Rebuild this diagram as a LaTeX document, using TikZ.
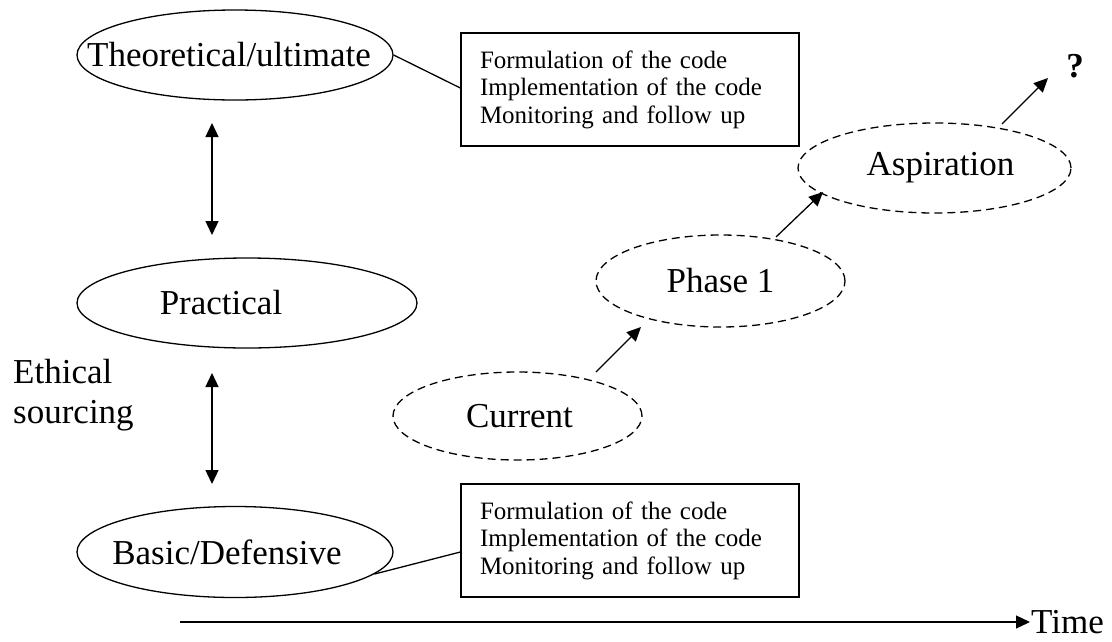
\documentclass[tikz,border=0pt]{standalone}
\usepackage{fontspec}
\setmainfont{Liberation Serif}
\usetikzlibrary{shapes.geometric,arrows.meta,calc}
\tikzset{
  ell/.style={draw, ellipse, line width=1.3pt, inner sep=0pt},
  dell/.style={ell, dash pattern=on 8pt off 5pt},
  big/.style={font=\fontsize{35}{40}\selectfont, inner sep=0pt},
  codebox/.style={draw, rectangle, line width=1.3pt, text width=300pt, inner xsep=19pt,
    minimum height=113pt, align=left, font=\fontsize{25}{27.5}\selectfont},
  conn/.style={line width=1.3pt},
  arr/.style={line width=1.3pt, -{Triangle[length=14pt,width=13pt]}},
  darr/.style={line width=1.3pt, {Triangle[length=14pt,width=13pt]}-{Triangle[length=14pt,width=13pt]}}
}
\begin{document}
\begin{tikzpicture}[x=1pt,y=-1pt]
\useasboundingbox (0,0) rectangle (1112,641);
% left column
\node[ell, minimum width=316pt, minimum height=90pt,
  label={[big,xshift=-6pt]center:Theoretical/ultimate}] (theo) at (235,55) {};
\node[ell, minimum width=340pt, minimum height=90pt,
  label={[big,xshift=-26pt]center:Practical}] (prac) at (247,303) {};
\node[ell, minimum width=316pt, minimum height=91pt,
  label={[big,xshift=-8pt]center:Basic/Defensive}] (basic) at (235,552) {};
\node[big, anchor=west, align=left] (eth) at (13,395) {Ethical\\sourcing};
% boxes
\node[codebox] (box1) at (630,89.5) {Formulation of the code\\Implementation of the code\\Monitoring and follow up};
\node[codebox] (box2) at (630,540.5) {Formulation of the code\\Implementation of the code\\Monitoring and follow up};
\draw[conn] (theo.east) -- ($(box1.west)+(0,-1.5)$);
\draw[conn] (basic.-9) -- ($(box2.west)+(0,11.5)$);
% double arrows
\coordinate (a1t) at (212,123);
\coordinate (a1b) at (212,235);
\coordinate (a2t) at (212,373);
\coordinate (a2b) at (212,484);
\draw[darr] (a1t) -- (a1b);
\draw[darr] (a2t) -- (a2b);
% phases
\node[dell, minimum width=249pt, minimum height=88pt,
  label={[big,xshift=2pt]center:Current}] (cur) at (517.5,416) {};
\node[dell, minimum width=249pt, minimum height=92pt,
  label={[big]center:Phase 1}] (ph1) at (720.5,281) {};
\node[dell, minimum width=273pt, minimum height=90pt,
  label={[big,xshift=6pt]center:Aspiration}] (asp) at (934.5,168) {};
\node[big, font=\fontsize{35}{40}\selectfont\bfseries] (q) at (1075,66) {?};
\coordinate (c1) at (596,372);
\coordinate (p1) at (641,327);
\coordinate (c2) at (776,237);
\coordinate (p2) at (823,192);
\coordinate (c3) at (1002,124);
\coordinate (p3) at (1048,78);
\draw[arr] (c1) -- (p1);
\draw[arr] (c2) -- (p2);
\draw[arr] (c3) -- (p3);
% time axis
\coordinate (t0) at (180,622);
\coordinate (t1) at (1030,622);
\draw[arr] (t0) -- (t1);
\node[big, anchor=west, inner sep=1pt] (time) at (t1) {Time};
\end{tikzpicture}
\end{document}
